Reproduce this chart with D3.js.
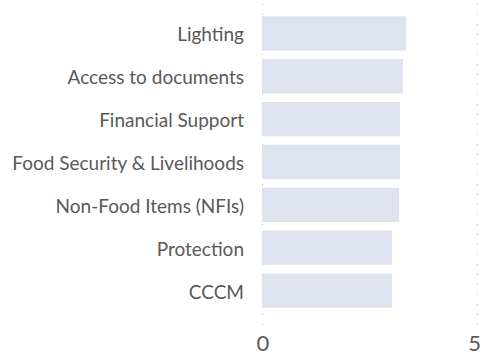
<!DOCTYPE html>
<html>
<head>
<meta charset="utf-8">
<script src="https://cdn.jsdelivr.net/npm/d3@7"></script>
<style>
  body { margin: 0; background: #fff; }
  svg text { font-family: Lato, "Open Sans", sans-serif; }
</style>
</head>
<body>
<div id="chart"></div>
<script>
const categories = ["Lighting", "Access to documents", "Financial Support", "Food Security & Livelihoods", "Non-Food Items (NFIs)", "Protection", "CCCM"];
const values = [3.35, 3.28, 3.21, 3.21, 3.19, 3.02, 3.02];
const xTicks = [0, 5];

const width = 482;
const height = 356;

const svg = d3.select('#chart')
    .append('svg')
    .attr('width', width)
    .attr('height', height);

const xScale = d3.scaleLinear()
    .domain([0, 5])
    .range([262, 477]);

const yScale = d3.scaleBand()
    .domain(categories)
    .range([12, 312])
    .paddingInner(0.2)
    .paddingOuter(0.1);

// dotted grid lines
svg.selectAll('.grid')
    .data(xTicks)
    .enter()
    .append('line')
    .attr('class', 'grid')
    .attr('x1', d => xScale(d) + 0.5)
    .attr('x2', d => xScale(d) + 0.5)
    .attr('y1', 4)
    .attr('y2', 326)
    .attr('stroke', '#bbb')
    .attr('stroke-width', 1)
    .attr('stroke-dasharray', '1,9');

// bars
svg.selectAll('.bar')
    .data(categories)
    .enter()
    .append('rect')
    .attr('class', 'bar')
    .attr('x', xScale(0))
    .attr('y', d => yScale(d))
    .attr('width', (d, i) => xScale(values[i]) - xScale(0))
    .attr('height', yScale.bandwidth())
    .attr('fill', '#dfe3f0');

// category labels
svg.selectAll('.label')
    .data(categories)
    .enter()
    .append('text')
    .attr('class', 'label')
    .attr('x', 244)
    .attr('y', d => yScale(d) + yScale.bandwidth() / 2 + 8)
    .attr('text-anchor', 'end')
    .attr('font-size', 19)
    .attr('fill', '#595959')
    .text(d => d);

// x tick labels (last one kept inside the right edge)
svg.selectAll('.tick-label')
    .data(xTicks)
    .enter()
    .append('text')
    .attr('class', 'tick-label')
    .attr('x', (d, i) => i === xTicks.length - 1 ? width - 1 : xScale(d) + 1)
    .attr('y', 351)
    .attr('text-anchor', (d, i) => i === xTicks.length - 1 ? 'end' : 'middle')
    .attr('font-size', 22)
    .attr('fill', '#595959')
    .text(d => d);
</script>
</body>
</html>
